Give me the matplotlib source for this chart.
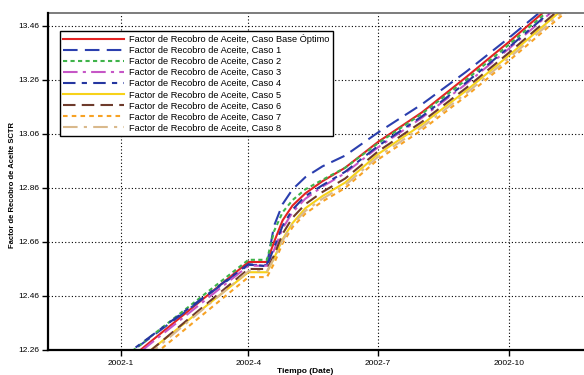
import matplotlib
matplotlib.use("Agg")
import matplotlib.pyplot as plt
import matplotlib.dates as mdates
import numpy as np
import datetime as dt

# fechas comunes para todas las series
fechas = ["2002-01-01", "2002-04-01", "2002-04-14", "2002-04-19", "2002-04-25",
          "2002-05-02", "2002-05-11", "2002-05-23", "2002-06-08", "2002-07-01",
          "2002-08-01", "2002-09-01", "2002-10-01", "2002-11-01", "2002-11-30"]

base  = [12.200, 12.586, 12.586, 12.660, 12.740, 12.795, 12.840, 12.885, 12.935, 13.030, 13.140, 13.270, 13.400, 13.540, 13.670]
caso1 = [12.224, 12.575, 12.575, 12.720, 12.800, 12.855, 12.900, 12.940, 12.980, 13.065, 13.170, 13.290, 13.415, 13.550, 13.680]
caso2 = [12.222, 12.594, 12.594, 12.700, 12.770, 12.815, 12.855, 12.890, 12.935, 13.025, 13.135, 13.260, 13.390, 13.530, 13.660]
caso3 = [12.195, 12.572, 12.572, 12.630, 12.710, 12.770, 12.820, 12.865, 12.915, 13.010, 13.120, 13.245, 13.375, 13.515, 13.645]
caso4 = [12.228, 12.578, 12.570, 12.640, 12.720, 12.780, 12.830, 12.870, 12.920, 13.015, 13.125, 13.250, 13.380, 13.520, 13.650]
caso5 = [12.170, 12.548, 12.548, 12.600, 12.670, 12.730, 12.785, 12.830, 12.880, 12.985, 13.095, 13.220, 13.350, 13.490, 13.620]
caso6 = [12.165, 12.560, 12.560, 12.610, 12.690, 12.750, 12.800, 12.845, 12.895, 12.995, 13.105, 13.230, 13.360, 13.500, 13.630]
caso7 = [12.140, 12.530, 12.530, 12.580, 12.655, 12.715, 12.765, 12.810, 12.860, 12.965, 13.075, 13.200, 13.330, 13.470, 13.600]
caso8 = [12.155, 12.552, 12.552, 12.600, 12.665, 12.725, 12.775, 12.820, 12.870, 12.975, 13.085, 13.210, 13.340, 13.480, 13.610]

nombres = ["Factor de Recobro de Aceite, Caso Base Óptimo",
           "Factor de Recobro de Aceite, Caso 1",
           "Factor de Recobro de Aceite, Caso 2",
           "Factor de Recobro de Aceite, Caso 3",
           "Factor de Recobro de Aceite, Caso 4",
           "Factor de Recobro de Aceite, Caso 5",
           "Factor de Recobro de Aceite, Caso 6",
           "Factor de Recobro de Aceite, Caso 7",
           "Factor de Recobro de Aceite, Caso 8"]

yticks = [12.26, 12.46, 12.66, 12.86, 13.06, 13.26, 13.46]
xticks = ["2002-01-01", "2002-04-01", "2002-07-01", "2002-10-01"]

series = [base, caso1, caso2, caso3, caso4, caso5, caso6, caso7, caso8]
colores = ["#e32222", "#2b3fae", "#3fb34a", "#c656c6", "#2536a0",
           "#f7d21a", "#6e3b2c", "#f7a224", "#d9b98c"]
estilos = ["-", (0, (7, 3.5)), (0, (2, 1.6)), (0, (7, 2.5, 1.5, 2.5)), (0, (6, 3, 2.5, 3)),
           "-", (0, (6, 3)), (0, (2.2, 2)), (0, (7, 3, 1.5, 3))]

plt.rcParams['font.family'] = ['Liberation Sans', 'DejaVu Sans']

fig = plt.figure(figsize=(5.84, 3.75), dpi=100)
ax = fig.add_axes([48 / 584, 25 / 375, 1 - 48 / 584, 337 / 375])

x = [dt.datetime.strptime(f, "%Y-%m-%d") for f in fechas]
for vals, col, ls, nom in zip(series, colores, estilos, nombres):
    ax.plot(x, vals, color=col, linestyle=ls, lw=1.5, label=nom)

ax.set_xlim(dt.datetime(2001, 11, 11), dt.datetime(2002, 11, 23))
ax.set_ylim(12.26, 13.508)

ax.set_yticks(yticks)
ax.set_yticklabels(["%.2f" % v for v in yticks])
ax.set_xticks([dt.datetime.strptime(f, "%Y-%m-%d") for f in xticks])
ax.xaxis.set_major_formatter(mdates.DateFormatter("%Y-%-m"))
ax.tick_params(labelsize=6, length=4, width=1, direction='out', pad=2)
ax.tick_params(axis='x', pad=3)

ax.grid(True, color='black', linestyle=(0, (1, 2)), lw=0.8)
for s in ['top', 'right']:
    ax.spines[s].set_visible(False)
ax.spines['left'].set_linewidth(1.6)
ax.spines['bottom'].set_linewidth(1.6)
ax.axhline(13.508, color='#666666', lw=1.2, clip_on=False)

leg = ax.legend(loc='upper left', bbox_to_anchor=(0.022, 0.947), borderaxespad=0,
                fontsize=6.7, handlelength=6.6, labelspacing=0.22, handletextpad=0.5,
                fancybox=False, edgecolor='black', framealpha=1, borderpad=0.35)
leg.get_frame().set_linewidth(1.0)

fig.text(0.022, 0.507, "Factor de Recobro de Aceite SCTR", rotation=90,
         fontsize=5.5, fontweight='bold', ha='center', va='center')
fig.text(0.522, 0.0, "Tiempo (Date)", fontsize=6, fontweight='bold',
         ha='center', va='bottom')

fig.savefig("out.png", dpi=100)
